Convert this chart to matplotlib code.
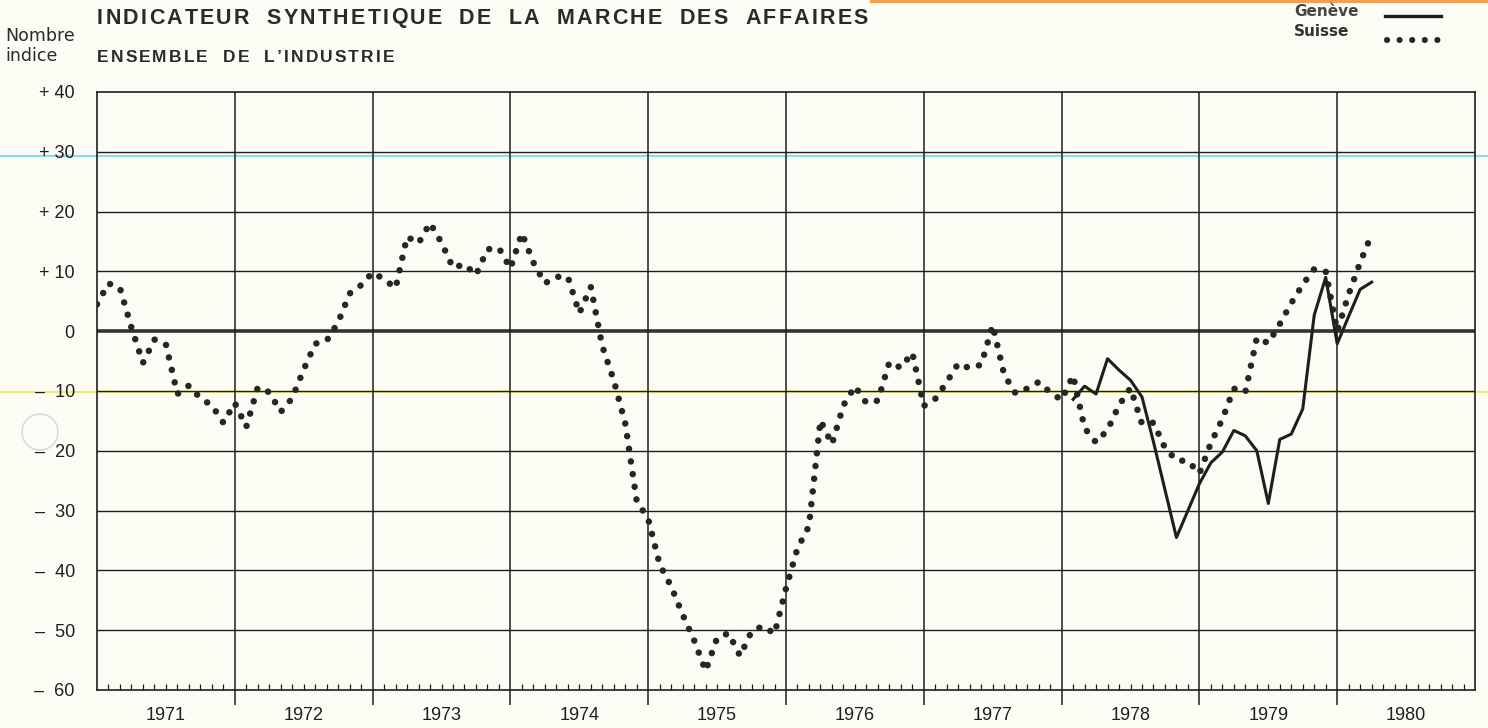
import numpy as np
import matplotlib
matplotlib.use('Agg')
import matplotlib.pyplot as plt
from matplotlib import font_manager
from matplotlib.patches import Ellipse, Rectangle
from matplotlib.lines import Line2D

# ---- data (monthly, index 0 = January 1971) ----
years = [1971, 1972, 1973, 1974, 1975, 1976, 1977, 1978, 1979, 1980]

suisse_1971 = [4.5, 8.0, 7.2, 0.6, -5.3, -1.4, -2.2, -10.5, -9.1, -11.2, -12.4, -15.3]
suisse_1972 = [-12.0, -16.0, -9.4, -10.2, -13.5, -11.2, -6.4, -2.1, -1.6, 1.5, 6.3, 7.7]
suisse_1973 = [9.8, 8.7, 7.2, 15.8, 14.7, 18.1, 14.8, 10.6, 11.2, 9.4, 13.7, 13.9]
suisse_1974 = [10.5, 16.4, 11.5, 8.0, 9.1, 9.1, 3.0, 7.4, -2.5, -8.2, -15.4, -28.4]
suisse_1975 = [-31.4, -39.0, -42.7, -47.4, -51.7, -56.8, -51.3, -50.5, -54.3, -50.2, -49.3, -50.6]
suisse_1976 = [-43.0, -36.3, -32.6, -14.9, -18.9, -12.4, -9.2, -12.0, -11.6, -5.2, -6.1, -3.6]
suisse_1977 = [-12.5, -11.3, -8.5, -5.4, -6.2, -5.6, 1.0, -7.3, -10.4, -9.6, -8.5, -10.2]
suisse_1978 = [-11.5, -7.4, -16.2, -18.6, -16.5, -12.4, -9.5, -15.5, -15.3, -19.5, -21.6, -21.7]
suisse_1979 = [-23.8, -18.7, -14.7, -9.6, -10.2, -1.1, -2.0, 1.2, 4.7, 7.8, 10.4, 10.0]
suisse_1980 = [0.0, 6.2, 11.5, 16.2]

geneve_start = 85  # February 1978
geneve = [-11.4, -9.2, -10.5, -4.6, -6.5, -8.2, -11.0, -18.5, -26.5, -34.5, -30.0,
          -25.5, -22.0, -20.2, -16.6, -17.5, -20.0, -28.8, -18.1, -17.2, -13.0,
          2.7, 9.0, -2.1, 2.5, 7.0, 8.2]

y_ticks = [40, 30, 20, 10, 0, -10, -20, -30, -40, -50, -60]
y_labels = ['+ 40', '+ 30', '+ 20', '+ 10', '0', '\u2013  10', '\u2013  20',
            '\u2013  30', '\u2013  40', '\u2013  50', '\u2013  60']

suisse = (suisse_1971 + suisse_1972 + suisse_1973 + suisse_1974 + suisse_1975 +
          suisse_1976 + suisse_1977 + suisse_1978 + suisse_1979 + suisse_1980)
x_suisse = np.arange(len(suisse))
x_geneve = np.arange(geneve_start, geneve_start + len(geneve))

# ---- fonts / colours ----
names = {f.name for f in font_manager.fontManager.ttflist}
SANS = 'Liberation Sans' if 'Liberation Sans' in names else 'DejaVu Sans'
NARROW = 'Liberation Sans Narrow' if 'Liberation Sans Narrow' in names else SANS
plt.rcParams['font.family'] = SANS

bg = '#fcfcf5'
ink = '#1e1e1e'
dot_color = '#262626'

W, H = 1488, 728
fig = plt.figure(figsize=(W / 100, H / 100), dpi=100)
fig.patch.set_facecolor(bg)


def fx(px):
    return px / W


def fy(py):
    return 1 - py / H


def fit_text(x0, x1, yc, s, space_weight=4.0, **kw):
    # draw s char by char so that it spans x0..x1 (pixels); word gaps get more room
    r = fig.canvas.get_renderer()
    probe = fig.text(0, 0, 'xx', **kw)
    base = probe.get_window_extent(r).width
    widths = []
    for ch in s:
        probe.set_text('x' + ch + 'x')
        widths.append(probe.get_window_extent(r).width - base)
    probe.remove()
    weights = [space_weight if ch == ' ' else 1.0 for ch in s[:-1]] + [0.0]
    unit = (x1 - x0 - sum(widths)) / max(sum(weights), 1)
    x = x0
    for ch, w, k in zip(s, widths, weights):
        fig.text(fx(x), fy(yc), ch, ha='left', va='center', **kw)
        x += w + unit * k


ax = fig.add_axes([fx(97), fy(690), (1475 - 97) / W, (690 - 92) / H])
ax.set_facecolor(bg)
ax.set_xlim(0, 120)
ax.set_ylim(-60, 40)

# grid
for v in range(-50, 40, 10):
    if v == 0:
        ax.axhline(v, color='#333333', lw=2.6, zorder=1)
    else:
        ax.axhline(v, color=ink, lw=1.0, zorder=1)
for i in range(1, len(years)):
    ax.axvline(12 * i, color=ink, lw=1.1, zorder=1)

# scan marks on the sheet
ax.axhline(29.3, xmin=-97 / 1378, xmax=1391 / 1378, color='#86dfe6', lw=1.6,
           clip_on=False, zorder=0.5)
ax.axhline(-10.1, xmin=-97 / 1378, xmax=1391 / 1378, color='#ecec7a', lw=1.6,
           clip_on=False, zorder=0.5)

# series
ax.plot(x_suisse, suisse, color=dot_color, lw=4.7, linestyle=(0, (0.01, 1.95)),
        dash_capstyle='round', zorder=3)
ax.plot(x_geneve, geneve, color=ink, lw=2.2, zorder=4)

for s in ['top', 'right', 'left', 'bottom']:
    ax.spines[s].set_linewidth(1.2)
    ax.spines[s].set_color(ink)

ax.set_yticks(y_ticks)
ax.set_yticklabels(y_labels, fontsize=13, color=ink)
ax.tick_params(axis='y', length=0, pad=16)

ax.set_xticks([12 * i for i in range(1, len(years))])
ax.set_xticks(np.arange(1, 120), minor=True)
ax.tick_params(axis='x', which='major', direction='out', length=11, width=1.1,
               color=ink, labelbottom=False)
ax.tick_params(axis='x', which='minor', direction='in', length=4.5, width=0.9,
               color=ink)

for i, yr in enumerate(years):
    ax.text(12 * i + 6, -0.042, str(yr), transform=ax.get_xaxis_transform(),
            ha='center', va='center', fontsize=13, family=NARROW, color=ink)

# titles
fit_text(97, 868, 18, 'INDICATEUR SYNTHETIQUE DE LA MARCHE DES AFFAIRES',
         fontsize=15.5, fontweight='bold', color='#2a2a2a')
fit_text(97, 394, 57, "ENSEMBLE DE L\u2019INDUSTRIE",
         fontsize=12.5, fontweight='bold', color='#2a2a2a')
fig.text(fx(5), fy(36), 'Nombre', family='DejaVu Sans', fontsize=12.5,
         ha='left', va='center', color='#2a2a2a')
fig.text(fx(5), fy(56), 'indice', family='DejaVu Sans', fontsize=12.5,
         ha='left', va='center', color='#2a2a2a')

# legend
fig.text(fx(1294), fy(11), 'Gen\u00e8ve', family='DejaVu Sans', fontsize=11,
         fontweight='bold', ha='left', va='center', color='#444444')
fig.text(fx(1294), fy(31), 'Suisse', family='DejaVu Sans', fontsize=11,
         fontweight='bold', ha='left', va='center', color='#333333')
fig.add_artist(Line2D([fx(1385), fx(1441)], [fy(16), fy(16)], color=ink, lw=2.4))
fig.add_artist(Line2D([fx(1387), fx(1440)], [fy(40), fy(40)], color=dot_color, lw=4.4,
                      linestyle=(0, (0.01, 2.05)), dash_capstyle='round'))

# sheet details: orange strip at the top, punch hole at the left
fig.add_artist(Rectangle((fx(870), fy(3)), 1 - fx(870), 3 / H, transform=fig.transFigure,
                         color='#f0a050', lw=0))
fig.add_artist(Ellipse((fx(40), fy(432)), 36 / W, 36 / H, transform=fig.transFigure,
                       facecolor='#fbfbf8', edgecolor='#d8d8d8', lw=1.2))

fig.savefig('out.png', dpi=100, facecolor=fig.get_facecolor())
